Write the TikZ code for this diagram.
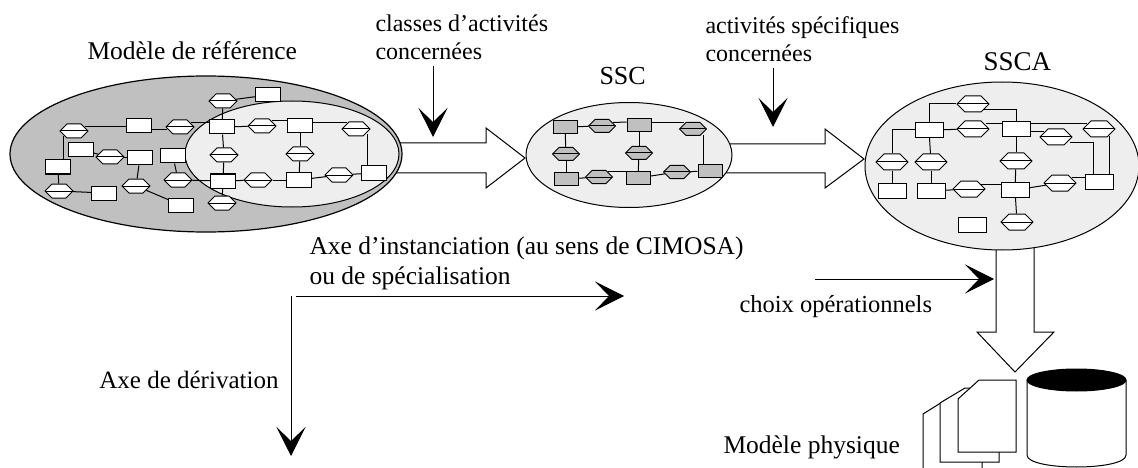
\documentclass[tikz,border=0pt]{standalone}
\usepackage{fontspec}
\setmainfont{Liberation Serif}[Ligatures=ResetAll]
\usetikzlibrary{arrows.meta, calc, shapes.geometric, shapes.symbols}
\definecolor{grisfonce}{HTML}{C0C0C0}
\definecolor{grisclair}{HTML}{EEEEEE}
\newcommand{\apos}{\char"27\relax}
\tikzset{
  tache/.style={draw, rectangle, fill=white, inner sep=0pt, minimum width=25pt, minimum height=14pt},
  fonction/.style={draw, signal, signal to=east and west, signal pointer angle=90,
    fill=white, inner sep=0pt, minimum width=28pt, minimum height=14pt,
    path picture={\draw (path picture bounding box.west) -- (path picture bounding box.east);}},
  tachessc/.style={tache, fill=grisfonce, minimum width=24pt, minimum height=13pt},
  fonctionssc/.style={fonction, fill=grisfonce, minimum width=27pt, minimum height=13pt},
  tachessca/.style={tache, minimum width=28pt, minimum height=15pt},
  fonctionssca/.style={fonction, minimum width=32pt, minimum height=16pt},
  zone/.style={draw, ellipse, inner sep=0pt},
  lbl/.style={anchor=base west, inner sep=0pt, font=\fontsize{25.5}{30}\selectfont},
  lblsmall/.style={lbl, align=left, anchor=north west, font=\fontsize{24}{28}\selectfont},
  vh/.style={to path={|- (\tikztotarget)}},
  hv/.style={to path={-| (\tikztotarget)}},
  bigarrow/.style={draw, fill=white}
}
\begin{document}
\begin{tikzpicture}[x=1pt,y=-1pt,line width=1pt,>={Stealth[length=29pt,width=29pt,inset=14pt]}]
  \useasboundingbox (0,0) rectangle (1138,468);

  % grosses fleches
  \draw[bigarrow] (395,143) -- (486,143) -- (486,128) -- (525,158) -- (486,188) -- (486,173) -- (395,173);
  \draw[bigarrow] (725,144) -- (825,144) -- (825,129) -- (864,159) -- (825,188) -- (825,173) -- (725,173);
  \draw[bigarrow] (996,240) -- (996,332) -- (977,332) -- (1015,372) -- (1054,332) -- (1034,332) -- (1034,240);

  % modele de reference
  \node[zone, fill=grisfonce, minimum width=392pt, minimum height=156pt, line width=1.2pt] (modele) at (206,154) {};
  \node[zone, fill=grisclair, minimum width=214pt, minimum height=106pt] (sousmodele) at (292,154) {};

  \node[tache] (r1) at (268,95) {};
  \node[fonction] (h1) at (223,101) {};
  \node[tache] (r2) at (139,126) {};
  \node[fonction] (h2) at (74,131) {};
  \node[fonction] (h3) at (180,127) {};
  \node[tache] (r3) at (222,127) {};
  \node[fonction] (h4) at (262,126) {};
  \node[tache] (r4) at (300,126) {};
  \node[fonction] (h5) at (356,129) {};
  \node[fonction] (h6) at (224,155) {};
  \node[fonction] (h7) at (300,154) {};
  \node[tache] (r5) at (81,150) {};
  \node[fonction] (h8) at (110,157) {};
  \node[tache] (r6) at (140,158) {};
  \node[tache] (r7) at (173,156) {};
  \node[tache] (r8) at (58,167) {};
  \node[tache] (r9) at (223,181) {};
  \node[fonction] (h9) at (258,180) {};
  \node[tache] (r10) at (299,180) {};
  \node[fonction] (h10) at (339,175) {};
  \node[tache] (r11) at (374,173) {};
  \node[fonction] (h11) at (178,180) {};
  \node[fonction] (h12) at (136,186) {};
  \node[fonction] (h13) at (59,191) {};
  \node[tache] (r12) at (104,193) {};
  \node[tache] (r13) at (181,205) {};
  \node[fonction] (h14) at (222,203) {};

  \path[draw]
  (r1) edge (h1)
  (h1) edge (r3)
  ($(h2.east)+(-4,-4)$) edge ($(r2.west)+(0,1)$)
  ($(r2.east)+(0,4)$) edge ($(h3.west)+(2,3)$)
  ($(h3.east)+(-4,-4)$) edge ($(r3.west)+(0,-4)$)
  (r3) edge (h4)
  ($(h4.east)+(-5,-5)$) edge ($(r4.west)+(0,-5)$)
  ($(r4.east)+(0,-3.5)$) edge ($(h5.west)+(6,-6.5)$)
  (r3) edge (h6)
  (h6) edge (r9)
  (r4) edge (h7)
  (h7) edge (r10)
  (r9) edge (h9)
  (h9) edge (r10)
  (r10) edge (h10)
  (h10) edge (r11)
  ($(h5.south)+(11,-2)$) edge ($(r11.north)+(-7,0)$)
  (r5) edge (h8)
  (h8) edge (r6)
  (r6) edge (h12)
  (h12) edge (r13)
  (r7) edge (h11)
  (h11) edge (r9)
  (r9) edge (h14)
  ($(h2.south)+(-11,-2)$) edge ($(r8.north)+(5,0)$)
  (r8) edge (h13)
  (h13) edge (r12);

  % SSC
  \node[zone, fill=grisclair, minimum width=206pt, minimum height=105pt] (ssc) at (629,155) {};
  \node[tachessc] (sr1) at (565,127) {};
  \node[fonctionssc] (sh1) at (602,126) {};
  \node[tachessc] (sr2) at (639,125) {};
  \node[fonctionssc] (sh2) at (693,129) {};
  \node[fonctionssc] (sh3) at (566,154) {};
  \node[fonctionssc] (sh4) at (639,153) {};
  \node[tachessc] (sr3) at (566,179) {};
  \node[fonctionssc] (sh5) at (599,177) {};
  \node[tachessc] (sr4) at (638,178) {};
  \node[fonctionssc] (sh6) at (677,172) {};
  \node[tachessc] (sr5) at (710,171) {};

  \path[draw]
  (sr1) edge (sh1)
  ($(sh1.east)+(-3,-3.5)$) edge ($(sr2.west)+(0,-3)$)
  ($(sr2.east)+(0,-2)$) edge ($(sh2.west)+(5.5,-6)$)
  (sr1) edge (sh3)
  (sh3) edge (sr3)
  (sr3) edge (sh5)
  ($(sh5.east)+(-5,-5)$) edge ($(sr4.west)+(0,-6)$)
  (sr2) edge (sh4)
  (sh4) edge (sr4)
  (sr4) edge (sh6)
  (sh6) edge (sr5)
  ($(sh2.south)+(10,-1)$) edge ($(sr5.north)+(-7,0)$);

  % SSCA
  \node[zone, fill=grisclair, minimum width=274pt, minimum height=168pt] (ssca) at (1002,166) {};
  \node[fonctionssca] (ah1) at (973,104) {};
  \node[tachessca] (ar1) at (929,130) {};
  \node[fonctionssca] (ah2) at (973,129) {};
  \node[tachessca] (ar2) at (1016,129) {};
  \node[fonctionssca] (ah3) at (1056,137) {};
  \node[fonctionssca] (ah4) at (1099,129) {};
  \node[fonctionssca] (ah5) at (892,162) {};
  \node[fonctionssca] (ah6) at (931,162) {};
  \node[fonctionssca] (ah7) at (1016,161) {};
  \node[tachessca] (ar3) at (892,191) {};
  \node[tachessca] (ar4) at (931,191) {};
  \node[fonctionssca] (ah8) at (969,189) {};
  \node[tachessca] (ar5) at (1015,190) {};
  \node[fonctionssca] (ah9) at (1060,183) {};
  \node[tachessca] (ar6) at (1099,182) {};
  \node[tachessca] (ar7) at (972,225) {};
  \node[fonctionssca] (ah10) at (1017,222) {};

  \path[draw]
  (ar1.north) edge[vh] (ah1.west)
  ($(ah1.south)+(10,-3)$) edge[hv] (ar2.north)
  (ar1.west) edge[hv] (ah5.north)
  (ar1) edge (ah2)
  ($(ah2.east)+(-4,-5)$) edge ($(ar2.west)+(0,-5)$)
  ($(ar2.east)+(0,-5)$) edge ($(ah4.west)+(5,-5)$)
  ($(ar2.east)+(0,3)$) edge ($(ah3.west)+(5,-5)$)
  (ar1) edge (ah6)
  (ah6) edge (ar4)
  (ah5) edge (ar3)
  (ar2) edge (ah7)
  (ah7) edge (ar5)
  (ar4) edge (ah8)
  ($(ah8.east)+(-5,-5)$) edge ($(ar5.west)+(0,-6)$)
  (ar5) edge (ah9)
  ($(ah9.east)+(-5,-6)$) edge ($(ar6.west)+(0,-5)$)
  (ar5) edge (ah10)
  ($(ah3.south)+(14,-3)$) edge[hv] ($(ar6.north)+(-6,0)$)
  ($(ah4.south)+(10,-1)$) edge ($(ar6.north)+(10,0)$);

  % fleches fines
  \coordinate (cA) at (433,66);
  \coordinate (cB) at (433,137);
  \coordinate (cC) at (773,68);
  \coordinate (cD) at (773,127);
  \coordinate (cE) at (815,279);
  \coordinate (cF) at (994,279);
  \coordinate (cG) at (296,296);
  \coordinate (cH) at (624,296);
  \coordinate (cI) at (291,296);
  \coordinate (cJ) at (291,456);
  \path[->]
  (cA) edge (cB)
  (cC) edge (cD)
  (cE) edge (cF)
  (cG) edge (cH)
  (cI) edge (cJ);

  % modele physique
  \draw[fill=white] (923,468) -- (923,414) -- (947,399) -- (982,399) -- (982,468);
  \draw[fill=white] (940,462) -- (940,403) -- (965,388) -- (999,388) -- (999,462) -- cycle;
  \draw[fill=white] (958,452) -- (958,399) -- (979,380) -- (1016,380) -- (1016,452) -- cycle;
  \draw[fill=white] (1027,380) -- (1027,455) .. controls (1027,471) and (1126,471) .. (1126,455) -- (1126,380);
  \node[draw, ellipse, fill=black, inner sep=0pt, minimum width=99pt, minimum height=22pt] (disque) at (1076.5,380) {};

  % textes
  \node[lbl] (tmodele) at (87,60) {Modèle de référence};
  \node[lblsmall] (tclasses) at (375,14) {classes d\apos activités\\concernées};
  \node[lbl, font=\fontsize{26}{30}\selectfont] (tssc) at (599,85) {SSC};
  \node[lblsmall] (tactivites) at (705,16) {activités spécifiques\\concernées};
  \node[lbl, font=\fontsize{27}{30}\selectfont] (tssca) at (983,71) {SSCA};
  \node[lbl, anchor=north west, align=left] (tinst) at (309,236) {Axe d\apos instanciation (au sens de CIMOSA)\\ou de spécialisation};
  \node[lbl, anchor=base east, font=\fontsize{25}{30}\selectfont] (tderiv) at (279,388) {Axe de dérivation};
  \node[lbl, font=\fontsize{24.5}{28}\selectfont] (tchoix) at (739,312) {choix opérationnels};
  \node[lbl] (tphys) at (723,453) {Modèle physique};
\end{tikzpicture}
\end{document}
